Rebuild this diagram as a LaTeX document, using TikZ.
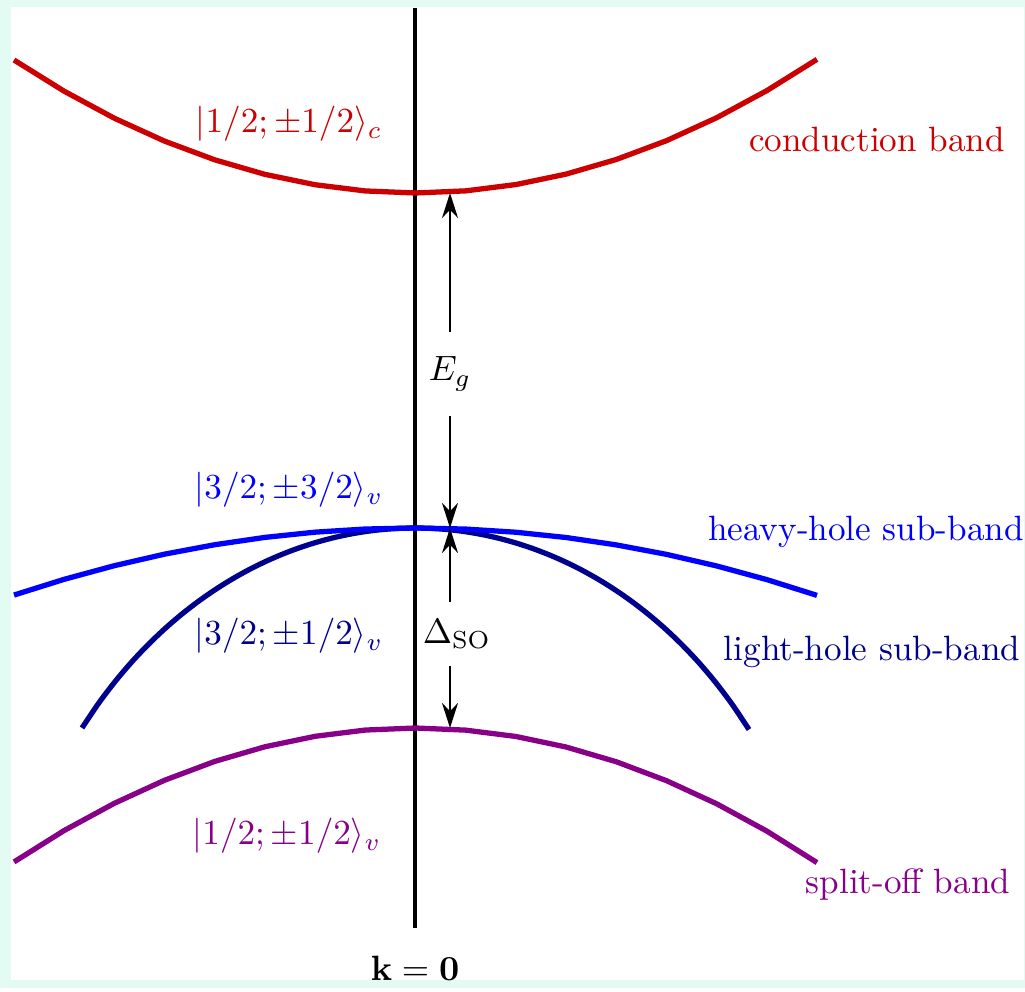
\documentclass[tikz,border=0pt]{standalone}
\usepackage{amsmath,amssymb}
\usepackage{xcolor}
\definecolor{clFrame}{HTML}{E4FBF4}
\definecolor{clCond}{HTML}{CC0000}
\definecolor{clHeavy}{HTML}{0000FF}
\definecolor{clLight}{HTML}{00008E}
\definecolor{clSplit}{HTML}{880088}
\usepackage{tikz}
\usetikzlibrary{arrows.meta,positioning,calc}
\tikzset{
  band/.style={line width=1.5pt, line join=round},
  kaxis/.style={line width=1.3pt},
  gap/.style={{Stealth[length=2.5mm,width=1.6mm]}-{Stealth[length=2.5mm,width=1.6mm]}, line width=0.5pt},
  gaplabel/.style={fill=white, inner xsep=1pt, inner ysep=7pt},
  statelabel/.style={inner sep=0pt, font=\normalsize},
}
\begin{document}
\begin{tikzpicture}[x=0.01cm, y=-0.01cm]
  % frame
  \fill[clFrame] (0,0) rectangle (1025,988);
  \fill[white] (11,7) rectangle (1024,980);

  % k = 0 axis
  \node[font=\normalsize] (kzero) at (415,968) {$\mathbf{k=0}$};
  \coordinate (ktop) at (415,8);
  \coordinate (kbot) at (415,928);
  \draw[kaxis] (ktop) -- (kbot);

  % bands
  \draw[band, clCond] plot[domain=-4.01:4.02, samples=17] ({415+100*\x}, {193-8.27*\x*\x});
  \draw[band, clLight] plot[domain=-3.33:3.34, samples=41, smooth] ({415+100*\x}, {528+512*(1-sqrt(1-(\x/4.2)^2))});
  \draw[band, clHeavy] plot[domain=-4.01:4.02, samples=17] ({415+100*\x}, {528+4.17*\x*\x});
  \draw[band, clSplit] plot[domain=-4.01:4.02, samples=17] ({415+100*\x}, {728+8.33*\x*\x});

  % band edges at the arrows
  \coordinate (cbmin) at (450,193);
  \coordinate (vbmax) at (450,528);
  \coordinate (somax) at (450,728);

  % gaps
  \draw[gap] (cbmin) -- node[gaplabel, pos=0.54] (eg) {$E_g$} (vbmax);
  \draw[gap] (vbmax) -- node[gaplabel, inner ysep=5pt, pos=0.53, xshift=0.7mm] (dso) {$\Delta_{\mathrm{SO}}$} (somax);

  % state labels
  \node[statelabel, text=clCond] (cstate) at (289,124) {$|1/2;\pm1/2\rangle_c$};
  \node[statelabel, text=clHeavy] (hhstate) at (289,490) {$|3/2;\pm3/2\rangle_v$};
  \node[statelabel, text=clLight] (lhstate) at (289,636) {$|3/2;\pm1/2\rangle_v$};
  \node[statelabel, text=clSplit] (sostate) at (287,836) {$|1/2;\pm1/2\rangle_v$};

  % band names
  \node[statelabel, text=clCond] (cname) at (877,140) {conduction band};
  \node[statelabel, text=clHeavy] (hhname) at (866,532) {heavy-hole sub-band};
  \node[statelabel, text=clLight] (lhname) at (872,652) {light-hole sub-band};
  \node[statelabel, text=clSplit] (soname) at (908,885) {split-off band};
\end{tikzpicture}
\end{document}
